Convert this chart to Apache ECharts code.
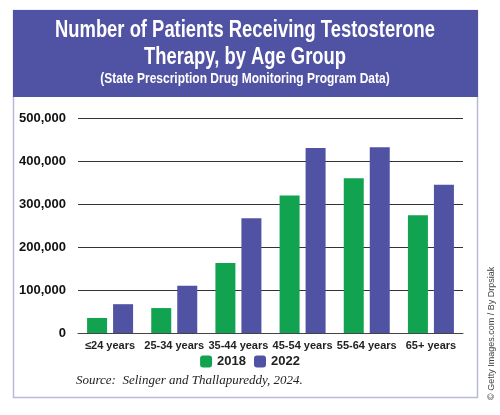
<!DOCTYPE html>
<html><head><meta charset="utf-8">
<script src="https://cdn.jsdelivr.net/npm/echarts@6/dist/echarts.min.js"></script>
<style>body{margin:0}#main{width:500px;height:415px}</style>
</head><body><div id="main"></div>
<script>
const categories = ['≤24 years', '25-34 years', '35-44 years', '45-54 years', '55-64 years', '65+ years'];
const values2018 = [35000, 58000, 163000, 320000, 360000, 274000];
const values2022 = [67000, 110000, 267000, 430000, 432000, 345000];
const yTicks = [0, 100000, 200000, 300000, 400000, 500000];

const font = '"Liberation Sans", Arial, sans-serif';
const chart = echarts.init(document.getElementById('main'));
chart.setOption({
  animation: false,
  backgroundColor: '#fff',
  graphic: [
    { type: 'rect', shape: { x: 13.5, y: 10.5, width: 464, height: 387 }, style: { fill: 'none', stroke: '#b9b9dc', lineWidth: 1.5 } },
    { type: 'rect', shape: { x: 13, y: 10, width: 465, height: 87 }, style: { fill: '#5052a3' } },
    { type: 'text', x: 245, y: 17, scaleX: 0.8, style: { text: 'Number of Patients Receiving Testosterone\nTherapy, by Age Group', fill: '#fff', font: 'bold 23px ' + font, align: 'center', lineHeight: 27 } },
    { type: 'text', x: 245, y: 71, scaleX: 0.8, style: { text: '(State Prescription Drug Monitoring Program Data)', fill: '#fff', font: 'bold 15px ' + font, align: 'center' } },
    { type: 'text', left: 76, top: 374, style: { text: 'Source:  Selinger and Thallapureddy, 2024.', fill: '#222', font: 'italic 13px "Liberation Serif", serif' } },
    { type: 'text', x: 492, y: 400, rotation: Math.PI / 2, style: { text: '© Getty Images.com / By Drpsiak', fill: '#444', font: '9px ' + font, verticalAlign: 'middle' } }
  ],
  legend: {
    top: 350, left: 'center', itemWidth: 12, itemHeight: 12, itemGap: 8,
    textStyle: { fontFamily: font, fontWeight: 'bold', fontSize: 13, color: '#222' },
    data: ['2018', '2022']
  },
  grid: { left: 78, right: 37, top: 118, bottom: 82 },
  xAxis: {
    type: 'category', data: categories,
    axisLine: { lineStyle: { color: '#444' } }, axisTick: { show: false },
    axisLabel: { fontFamily: font, fontWeight: 'bold', fontSize: 11, color: '#222', margin: 7, interval: 0 }
  },
  yAxis: {
    type: 'value', min: 0, max: 500000, interval: 100000,
    axisLine: { show: false }, axisTick: { show: false },
    splitLine: { lineStyle: { color: '#333', width: 1 } },
    axisLabel: { fontFamily: font, fontWeight: 'bold', fontSize: 13, color: '#111', margin: 12,
      formatter: v => yTicks.includes(v) ? v.toLocaleString('en-US') : '' }
  },
  series: [
    { name: '2018', type: 'bar', data: values2018, itemStyle: { color: '#12a350' }, barWidth: 20, barGap: '30%' },
    { name: '2022', type: 'bar', data: values2022, itemStyle: { color: '#5052a3' }, barWidth: 20 }
  ]
});
</script></body></html>
